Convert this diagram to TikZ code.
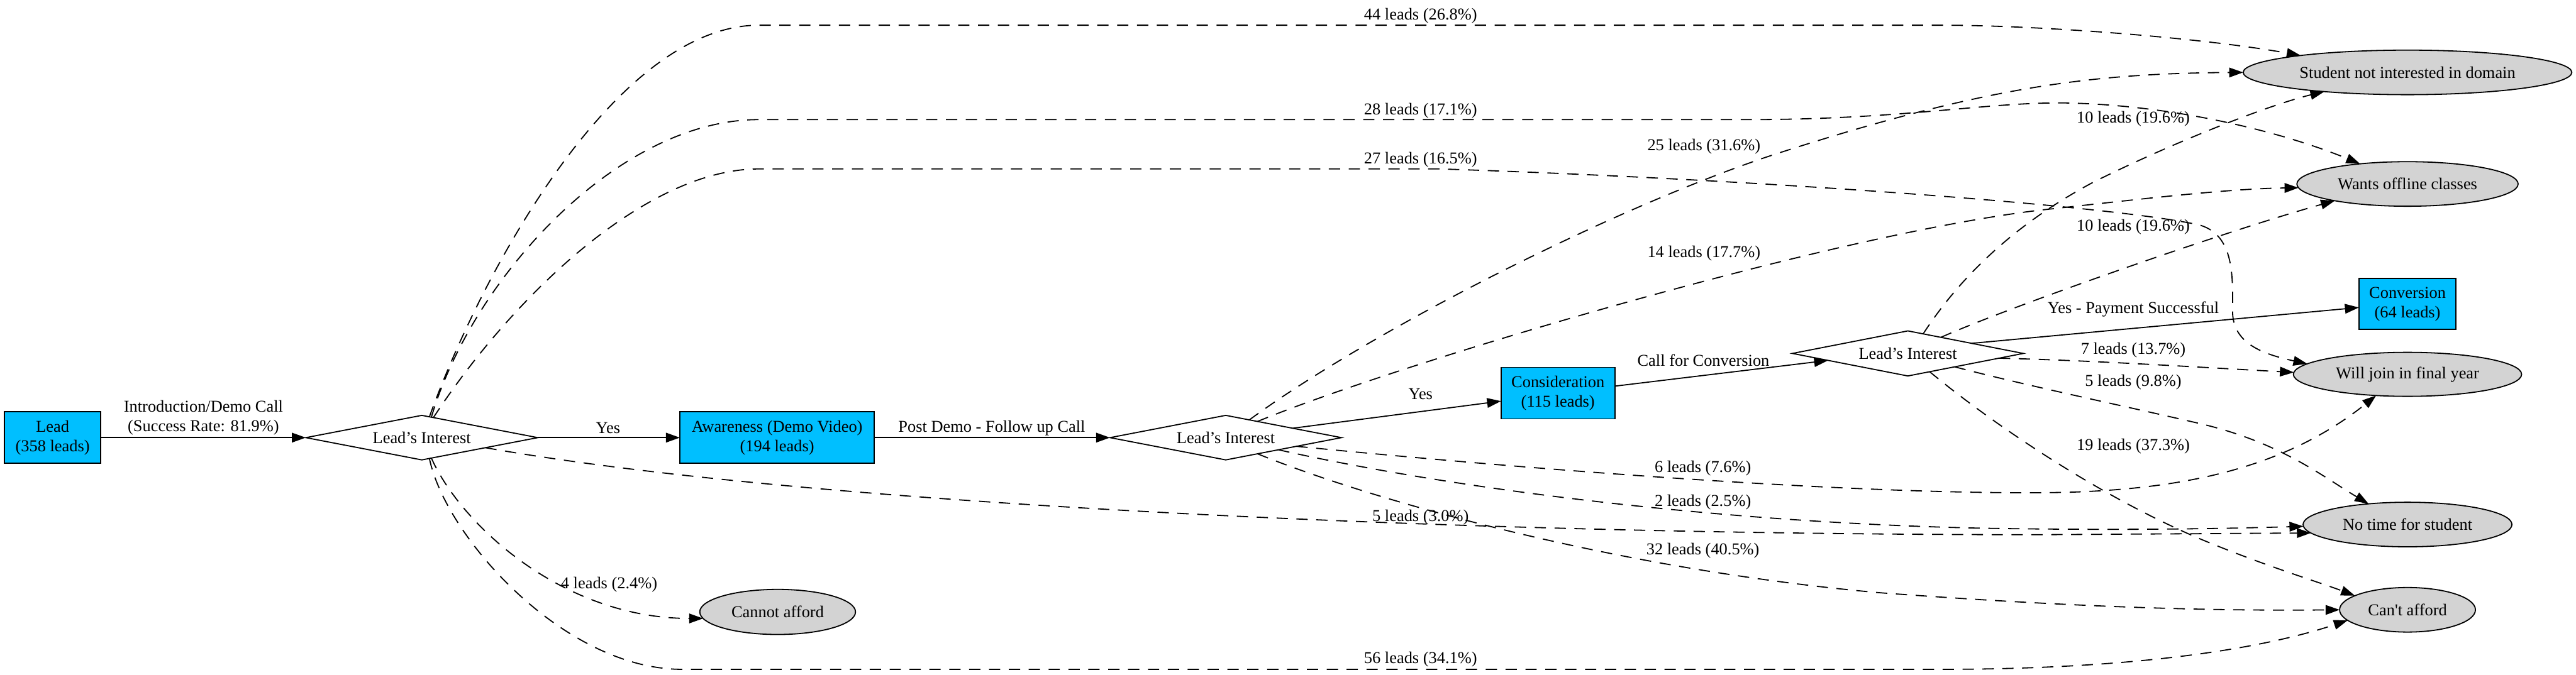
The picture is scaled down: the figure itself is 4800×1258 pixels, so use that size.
\documentclass[tikz,border=0pt]{standalone}
\usepackage{fontspec}
\setmainfont{Liberation Serif}
\usetikzlibrary{shapes.geometric,arrows.meta}
\definecolor{skyfill}{HTML}{00BFFF}
\definecolor{greyfill}{HTML}{D3D3D3}
\begin{document}
\begin{tikzpicture}[x=0.01cm,y=-0.01cm,
  every node/.style={font=\fontsize{8.8pt}{10.4pt}\selectfont, inner sep=0pt, outer sep=0pt},
  stagebox/.style={draw=black, fill=skyfill, rectangle, align=center, line width=0.6pt},
  decision/.style={draw=black, fill=white, diamond, aspect=5.2, line width=0.6pt},
  reason/.style={draw=black, fill=greyfill, ellipse, line width=0.6pt},
  flow/.style={draw, line width=0.6pt, -{Triangle[length=0.26cm,width=0.18cm]}},
  drop/.style={flow, dash pattern=on 0.21cm off 0.16cm},
  lbl/.style={align=center}
]
\useasboundingbox (0,0) rectangle (4800,1258);

% stages
\node[stagebox, minimum width=1.79cm, minimum height=0.96cm] (lead) at (98,816) {Lead\\(358 leads)};
\node[decision, minimum width=4.32cm, minimum height=0.83cm] (d1) at (786,816) {Lead’s Interest};
\node[stagebox, minimum width=3.62cm, minimum height=0.96cm] (aware) at (1448,816) {Awareness (Demo Video)\\(194 leads)};
\node[decision, minimum width=4.31cm, minimum height=0.83cm] (d2) at (2284,816) {Lead’s Interest};
\node[stagebox, minimum width=2.12cm, minimum height=0.96cm] (consid) at (2903,733) {Consideration\\(115 leads)};
\node[decision, minimum width=4.30cm, minimum height=0.84cm] (d3) at (3555,659) {Lead’s Interest};
\node[stagebox, minimum width=1.81cm, minimum height=0.95cm] (conv) at (4486,567) {Conversion\\(64 leads)};

% reasons
\node[reason, minimum width=6.12cm, minimum height=0.83cm] (student) at (4486,135) {Student not interested in domain};
\node[reason, minimum width=4.12cm, minimum height=0.83cm] (offline) at (4486,343) {Wants offline classes};
\node[reason, minimum width=4.25cm, minimum height=0.82cm] (final) at (4486,698) {Will join in final year};
\node[reason, minimum width=3.89cm, minimum height=0.83cm] (notime) at (4486,978) {No time for student};
\node[reason, minimum width=2.53cm, minimum height=0.83cm] (cant) at (4486,1137) {Can\textquotesingle t afford};
\node[reason, minimum width=2.90cm, minimum height=0.84cm] (cannot) at (1449,1141) {Cannot afford};

% main flow
\draw[flow] (lead.east) -- (d1.west);
\draw[flow] (d1.east) -- (aware.west);
\draw[flow] (aware.east) -- (d2.west);
\draw[flow] (d2.8) -- (consid.188);
\draw[flow] (consid.7) -- (d3.185);
\draw[flow] (d3.9) -- (conv.184);

% first decision drop-offs
\draw[drop] (d1.70) .. controls (900,500) and (1150,47) .. (1414,47) -- (3616,47) .. controls (3800,47) and (4100,70) .. (student.171);
\draw[drop] (d1.65) .. controls (880,520) and (1150,223) .. (1414,223) -- (3257,223) .. controls (3550,223) and (3700,190) .. (3850,192) .. controls (4050,196) and (4250,245) .. (offline.157);
\draw[drop] (d1.60) .. controls (950,560) and (1200,315) .. (1414,315) -- (2683,315) .. controls (3300,335) and (3950,385) .. (4100,420) .. controls (4165,440) and (4160,520) .. (4160,580) .. controls (4160,640) and (4215,660) .. (final.174);
\draw[drop] (d1.-70) .. controls (830,1000) and (1050,1248) .. (1271,1248) -- (3616,1248) .. controls (3950,1248) and (4200,1215) .. (cant.190);
\draw[drop] (d1.-65) .. controls (860,980) and (1050,1153) .. (cannot.185);
\draw[drop] (d1.-9) .. controls (1500,940) and (2700,997) .. (3800,997) -- (notime.185);

% second decision drop-offs
\draw[drop] (d2.37) .. controls (2550,620) and (3000,390) .. (3300,290) .. controls (3700,160) and (3900,137) .. (student.west);
\draw[drop] (d2.27) .. controls (2600,680) and (3400,440) .. (3800,392) .. controls (4000,370) and (4150,352) .. (offline.182);
\draw[drop] (d2.-7) .. controls (2900,880) and (3500,925) .. (3850,918) .. controls (4050,912) and (4250,880) .. (final.-146);
\draw[drop] (d2.-13) .. controls (2700,910) and (3200,975) .. (3700,985) .. controls (4000,990) and (4200,984) .. (notime.181);
\draw[drop] (d2.-27) .. controls (2550,930) and (3000,1060) .. (3500,1105) .. controls (3900,1135) and (4150,1139) .. (cant.west);

% third decision drop-offs
\draw[drop] (d3.52) .. controls (3650,520) and (3750,420) .. (3900,340) .. controls (4050,265) and (4230,195) .. (student.-167);
\draw[drop] (d3.26) .. controls (3750,570) and (4150,430) .. (offline.-167);
\draw[drop] (d3.-3) .. controls (3900,672) and (4100,685) .. (final.179);
\draw[drop] (d3.-16) .. controls (3780,720) and (3950,755) .. (4100,790) .. controls (4250,825) and (4330,890) .. (notime.152);
\draw[drop] (d3.-40) .. controls (3700,780) and (3900,920) .. (4100,1005) .. controls (4220,1055) and (4320,1085) .. (cant.165);

% labels
\node[lbl] (tintro) at (379,779) {Introduction/Demo Call\\(Success Rate: 81.9\%)};
\node (tyes1) at (1133,798) {Yes};
\node (tpost) at (1848,798) {Post Demo - Follow up Call};
\node (tyes2) at (2647,735) {Yes};
\node (tcall) at (3174,672) {Call for Conversion};
\node (tpay) at (3975,577) {Yes - Payment Successful};
\node (t44) at (2647,30) {44 leads (26.8\%)};
\node (t28) at (2647,207) {28 leads (17.1\%)};
\node (t27) at (2647,298) {27 leads (16.5\%)};
\node (t25) at (3175,273) {25 leads (31.6\%)};
\node (t14) at (3175,472) {14 leads (17.7\%)};
\node (t10a) at (3975,222) {10 leads (19.6\%)};
\node (t10b) at (3975,423) {10 leads (19.6\%)};
\node (t7) at (3975,653) {7 leads (13.7\%)};
\node (t5b) at (3975,713) {5 leads (9.8\%)};
\node (t19) at (3975,832) {19 leads (37.3\%)};
\node (t6) at (3173,873) {6 leads (7.6\%)};
\node (t2) at (3173,937) {2 leads (2.5\%)};
\node (t5a) at (2647,965) {5 leads (3.0\%)};
\node (t32) at (3173,1027) {32 leads (40.5\%)};
\node (t4) at (1135,1090) {4 leads (2.4\%)};
\node (t56) at (2647,1230) {56 leads (34.1\%)};
\end{tikzpicture}
\end{document}
